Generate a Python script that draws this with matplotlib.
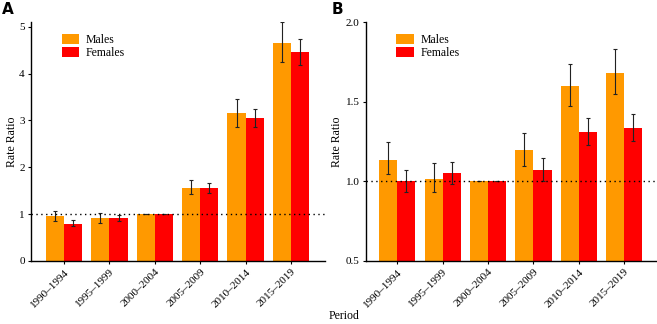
import matplotlib
matplotlib.use("Agg")
import matplotlib.pyplot as plt
import numpy as np

periods = ["1990\u20131994", "1995\u20131999", "2000\u20132004", "2005\u20132009", "2010\u20132014", "2015\u20132019"]

# Panel A
a_males = [0.95, 0.92, 1.00, 1.56, 3.15, 4.65]
a_males_lo = [0.86, 0.82, 1.00, 1.42, 2.87, 4.24]
a_males_hi = [1.06, 1.03, 1.00, 1.73, 3.46, 5.10]
a_females = [0.80, 0.91, 1.00, 1.55, 3.05, 4.45]
a_females_lo = [0.74, 0.85, 1.00, 1.45, 2.86, 4.18]
a_females_hi = [0.87, 0.98, 1.00, 1.66, 3.25, 4.73]

# Panel B
b_males = [1.137, 1.017, 1.00, 1.196, 1.598, 1.682]
b_males_lo = [1.043, 0.932, 1.00, 1.099, 1.470, 1.548]
b_males_hi = [1.246, 1.116, 1.00, 1.302, 1.734, 1.828]
b_females = [1.00, 1.051, 1.00, 1.072, 1.309, 1.336]
b_females_lo = [0.936, 0.982, 1.00, 1.003, 1.231, 1.252]
b_females_hi = [1.072, 1.120, 1.00, 1.147, 1.397, 1.422]

series_labels = ["Males", "Females"]
colors = ["#FF9900", "#FF0000"]

plt.rcParams['font.family'] = ['Liberation Serif', 'DejaVu Serif']

fig = plt.figure(figsize=(6.57, 3.24), dpi=100)
axA = fig.add_axes([31/657, 63/324, 294/657, 239/324])
axB = fig.add_axes([366/657, 63/324, 290/657, 239/324])

def draw(ax, m, mlo, mhi, f, flo, fhi, ylim, yticks, yticklabels, xlim, ylab_x):
    x = np.arange(len(periods))
    w = 0.4
    m = np.array(m); f = np.array(f)
    em = [m - np.array(mlo), np.array(mhi) - m]
    ef = [f - np.array(flo), np.array(fhi) - f]
    ax.bar(x - w/2, m, w, color=colors[0], label=series_labels[0], edgecolor='none')
    ax.bar(x + w/2, f, w, color=colors[1], label=series_labels[1], edgecolor='none')
    ax.errorbar(x - w/2, m, yerr=em, fmt='none', ecolor='#222222', elinewidth=0.8, capsize=1.2, capthick=0.8)
    ax.errorbar(x + w/2, f, yerr=ef, fmt='none', ecolor='#222222', elinewidth=0.8, capsize=1.2, capthick=0.8)
    ax.axhline(1.0, color='black', linestyle=(0, (1, 2.5)), linewidth=1.0)
    ax.set_xlim(*xlim)
    ax.set_ylim(*ylim)
    ax.set_yticks(yticks)
    ax.set_yticklabels(yticklabels, fontsize=8)
    ax.set_xticks(x)
    ax.set_xticklabels(periods, rotation=45, ha='right', rotation_mode='anchor', fontsize=8)
    for s in ['top', 'right']:
        ax.spines[s].set_visible(False)
    for s in ['left', 'bottom']:
        ax.spines[s].set_linewidth(1.0)
    ax.tick_params(axis='both', length=2.5, width=0.8, pad=2, colors='black')
    ax.set_ylabel("Rate Ratio", fontsize=8.5)
    ax.yaxis.set_label_coords(ylab_x, 0.5)
    ax.legend(loc='upper left', bbox_to_anchor=(0.105, 0.95), frameon=False,
              fontsize=8.5, handlelength=1.45, handleheight=0.85, labelspacing=0.08,
              handletextpad=0.6, borderpad=0.0, borderaxespad=0.0)

draw(axA, a_males, a_males_lo, a_males_hi, a_females, a_females_lo, a_females_hi,
     (0, 5.1), [0, 1, 2, 3, 4, 5], ["0", "1", "2", "3", "4", "5"], (-0.73, 5.75), -0.044)
draw(axB, b_males, b_males_lo, b_males_hi, b_females, b_females_lo, b_females_hi,
     (0.5, 2.0), [0.5, 1.0, 1.5, 2.0], ["0.5", "1.0", "1.5", "2.0"], (-0.69, 5.7), -0.079)

fig.text(344/657, 1 - 316/324, "Period", ha='center', va='center', fontsize=8.5)
fig.text(2/657, 1 - 9/324, "A", ha='left', va='center', fontsize=11, fontweight='bold', family='DejaVu Sans')
fig.text(332/657, 1 - 9/324, "B", ha='left', va='center', fontsize=11, fontweight='bold', family='DejaVu Sans')

fig.savefig("out.png", dpi=100)
